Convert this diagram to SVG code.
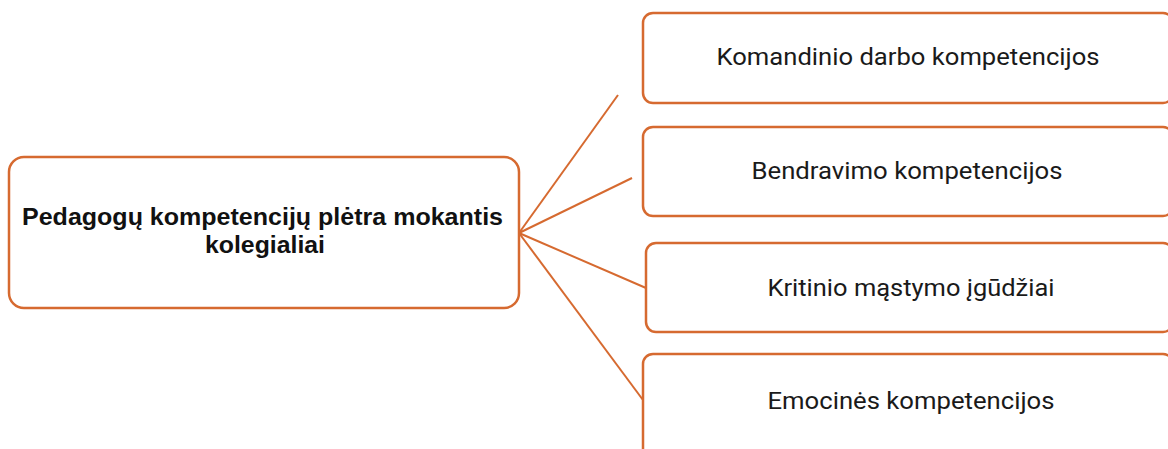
<svg xmlns="http://www.w3.org/2000/svg" width="1168" height="449" viewBox="0 0 1168 449">
<style>
.box{fill:#fff;stroke:#D66A30;stroke-width:2.5}
.conn{stroke:#D66A30;stroke-width:2;fill:none}
.t{font-family:Roboto,"Liberation Sans",sans-serif;font-size:23px;fill:#1a1a1a;text-anchor:middle}
.tb{font-family:"Liberation Sans",Arial,sans-serif;font-size:23px;font-weight:bold;fill:#111;text-anchor:middle}
</style>
<rect width="1168" height="449" fill="#fff"/>
<g id="connectors">
<line class="conn" x1="519" y1="233" x2="618" y2="95"/>
<line class="conn" x1="519" y1="233" x2="632" y2="178"/>
<line class="conn" x1="519" y1="233" x2="646" y2="288"/>
<line class="conn" x1="519" y1="233" x2="643" y2="400"/>
</g>
<g id="main">
<rect class="box" x="9" y="157" width="510" height="151" rx="15"/>
<text class="tb" x="262.5" y="225" textLength="481" lengthAdjust="spacingAndGlyphs">Pedagogų kompetencijų plėtra mokantis</text>
<text class="tb" x="265" y="253" textLength="120" lengthAdjust="spacingAndGlyphs">kolegialiai</text>
</g>
<g id="n1">
<rect class="box" x="643" y="13" width="530" height="90" rx="10"/>
<text class="t" x="908" y="65" textLength="383" lengthAdjust="spacingAndGlyphs">Komandinio darbo kompetencijos</text>
</g>
<g id="n2">
<rect class="box" x="643" y="127" width="530" height="89" rx="10"/>
<text class="t" x="907" y="179" textLength="311" lengthAdjust="spacingAndGlyphs">Bendravimo kompetencijos</text>
</g>
<g id="n3">
<rect class="box" x="646" y="243" width="527" height="89" rx="10"/>
<text class="t" x="911" y="296" textLength="287" lengthAdjust="spacingAndGlyphs">Kritinio mąstymo įgūdžiai</text>
</g>
<g id="n4">
<rect class="box" x="643" y="354" width="530" height="110" rx="10"/>
<text class="t" x="911" y="409" textLength="287" lengthAdjust="spacingAndGlyphs">Emocinės kompetencijos</text>
</g>
</svg>
